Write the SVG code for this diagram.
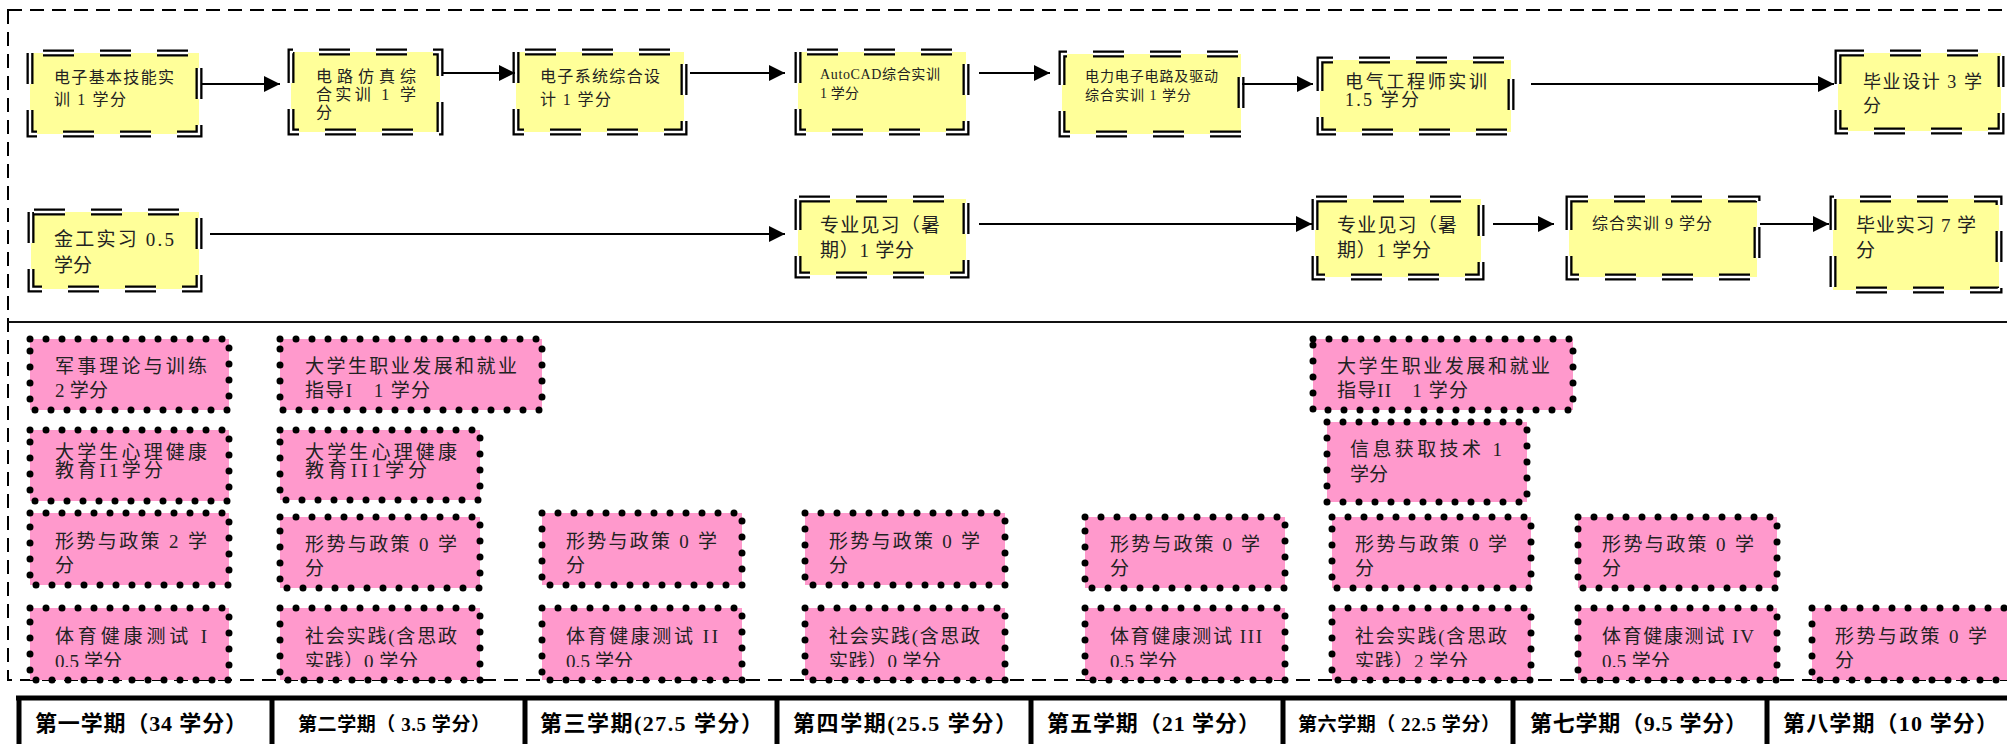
<svg xmlns="http://www.w3.org/2000/svg" width="2007" height="744" viewBox="0 0 2007 744">
<style>
text{font-family:"Liberation Serif","Noto Sans CJK SC",serif;fill:#222}
.y{fill:#FFFF99;stroke:#000;stroke-width:7;stroke-dasharray:31 26}
.yi{fill:none;stroke:#fff;stroke-width:2.4;stroke-dasharray:31 26}
.p{fill:#FF99CC;stroke:#000;stroke-width:7;stroke-dasharray:0 16;stroke-linecap:round}
.t16{font-size:16px}.t14{font-size:14px}.t18{font-size:18px}.t19{font-size:19px}
.pk{font-size:19px}
.hd{font-weight:bold;fill:#000}
.c{fill:none;stroke:#000;stroke-width:2;marker-end:url(#ah)}
</style>
<defs>
<marker id="ah" markerUnits="userSpaceOnUse" markerWidth="16" markerHeight="16" refX="15" refY="7.5" orient="auto" viewBox="0 0 15 15"><path d="M0,0 L15,7.5 L0,15 Z" fill="#000"/></marker>
<clipPath id="cb"><rect x="0" y="0" width="2007" height="667"/></clipPath>
</defs>
<rect width="2007" height="744" fill="#fff"/>
<g id="frame">
<rect x="8" y="10" width="2010" height="670" fill="none" stroke="#000" stroke-width="2" stroke-dasharray="14 8"/>
<line x1="8" y1="322" x2="2007" y2="322" stroke="#111" stroke-width="2"/>
</g>
<g id="n1"><path class="y" d="M30,53 V134 H199 V53 Z"/><path class="yi" d="M30,53 V134 H199 V53 Z"/>
<text class="t16" x="54" y="83" textLength="120">电子基本技能实</text><text class="t16" x="54" y="105" textLength="72">训 1 学分</text></g>
<g id="n2"><path class="y" d="M291,52 V132 H440 V52 Z"/><path class="yi" d="M291,52 V132 H440 V52 Z"/>
<text class="t16" x="316" y="82" textLength="100">电路仿真综</text><text class="t16" x="316" y="100" textLength="100">合实训 1 学</text><text class="t16" x="316" y="118">分</text></g>
<g id="n3"><path class="y" d="M516,52 V132 H684 V52 Z"/><path class="yi" d="M516,52 V132 H684 V52 Z"/>
<text class="t16" x="540" y="82" textLength="120">电子系统综合设</text><text class="t16" x="540" y="105" textLength="71">计 1 学分</text></g>
<g id="n4"><path class="y" d="M798,52 V132 H966 V52 Z"/><path class="yi" d="M798,52 V132 H966 V52 Z"/>
<text class="t14" x="820" y="79" textLength="120">AutoCAD综合实训</text><text class="t14" x="820" y="98" textLength="39">1 学分</text></g>
<g id="n5"><path class="y" d="M1062,54 V134 H1241 V54 Z"/><path class="yi" d="M1062,54 V134 H1241 V54 Z"/>
<text class="t14" x="1085" y="81" textLength="133">电力电子电路及驱动</text><text class="t14" x="1085" y="100" textLength="106">综合实训 1 学分</text></g>
<g id="n6"><path class="y" d="M1320,60 V132 H1511 V60 Z"/><path class="yi" d="M1320,60 V132 H1511 V60 Z"/>
<text class="t18" x="1345" y="88" textLength="142">电气工程师实训</text><text class="t18" x="1345" y="106" textLength="74">1.5 学分</text></g>
<g id="n7"><path class="y" d="M1838,53 V131 H2001 V53 Z"/><path class="yi" d="M1838,53 V131 H2001 V53 Z"/>
<text class="t18" x="1863" y="88" textLength="119">毕业设计 3 学</text><text class="t18" x="1863" y="112">分</text></g>
<g id="n8"><path class="y" d="M31,212 V289 H199 V212 Z"/><path class="yi" d="M31,212 V289 H199 V212 Z"/>
<text class="t19" x="54" y="246" textLength="120">金工实习 0.5</text><text class="t19" x="54" y="272" textLength="38">学分</text></g>
<g id="n9"><path class="y" d="M798,199 V275 H966 V199 Z"/><path class="yi" d="M798,199 V275 H966 V199 Z"/>
<text class="t19" x="820" y="232" textLength="120">专业见习（暑</text><text class="t19" x="820" y="257" textLength="94">期）1 学分</text></g>
<g id="n10"><path class="y" d="M1315,199 V277 H1481 V199 Z"/><path class="yi" d="M1315,199 V277 H1481 V199 Z"/>
<text class="t19" x="1337" y="232" textLength="120">专业见习（暑</text><text class="t19" x="1337" y="257" textLength="94">期）1 学分</text></g>
<g id="n11"><path class="y" d="M1569,199 V277 H1757 V199 Z"/><path class="yi" d="M1569,199 V277 H1757 V199 Z"/>
<text class="t16" x="1592" y="229" textLength="120">综合实训 9 学分</text></g>
<g id="n12"><path class="y" d="M1833,199 V290 H1999 V199 Z"/><path class="yi" d="M1833,199 V290 H1999 V199 Z"/>
<text class="t19" x="1856" y="232" textLength="120">毕业实习 7 学</text><text class="t19" x="1856" y="257">分</text></g>
<g id="connectors">
<path class="c" d="M202,84 H280"/>
<path class="c" d="M443,73 H515"/>
<path class="c" d="M690,73 H785"/>
<path class="c" d="M979,73 H1050"/>
<path class="c" d="M1242,84 H1313"/>
<path class="c" d="M1531,84 H1834"/>
<path class="c" d="M210,234 H785"/>
<path class="c" d="M979,224 H1312"/>
<path class="c" d="M1493,224 H1554"/>
<path class="c" d="M1760,224 H1829"/>
</g>
<g id="p1"><rect class="p" x="30" y="339" width="199" height="71"/><text class="pk" x="55" y="373" textLength="152">军事理论与训练</text><text class="pk" x="55" y="397" textLength="53">2 学分</text></g>
<g id="p2"><rect class="p" x="30" y="430" width="199" height="71"/><text class="pk" x="55" y="459" textLength="152">大学生心理健康</text><text class="pk" x="55" y="477" textLength="108">教育I1学分</text></g>
<g id="p3"><rect class="p" x="30" y="513" width="199" height="72"/><text class="pk" x="55" y="548" textLength="152">形势与政策 2 学</text><text class="pk" x="55" y="572">分</text></g>
<g id="p4"><rect class="p" x="30" y="608" width="199" height="72"/><text class="pk" x="55" y="643" textLength="152">体育健康测试 I</text><text class="pk" x="55" y="668" textLength="67" clip-path="url(#cb)">0.5 学分</text></g>
<g id="p5"><rect class="p" x="280" y="339" width="262" height="71"/><text class="pk" x="305" y="373" textLength="212">大学生职业发展和就业</text><text class="pk" x="305" y="397" textLength="125">指导I　1 学分</text></g>
<g id="p6"><rect class="p" x="280" y="430" width="200" height="70"/><text class="pk" x="305" y="459" textLength="152">大学生心理健康</text><text class="pk" x="305" y="477" textLength="122">教育II1学分</text></g>
<g id="p7"><rect class="p" x="280" y="517" width="200" height="71"/><text class="pk" x="305" y="551" textLength="152">形势与政策 0 学</text><text class="pk" x="305" y="575">分</text></g>
<g id="p8"><rect class="p" x="280" y="608" width="200" height="72"/><text class="pk" x="305" y="643" textLength="152">社会实践(含思政</text><text class="pk" x="305" y="668" textLength="113" clip-path="url(#cb)">实践）0 学分</text></g>
<g id="p9"><rect class="p" x="542" y="513" width="200" height="72"/><text class="pk" x="566" y="548" textLength="151">形势与政策 0 学</text><text class="pk" x="566" y="572">分</text></g>
<g id="p10"><rect class="p" x="542" y="608" width="200" height="72"/><text class="pk" x="566" y="643" textLength="152">体育健康测试 II</text><text class="pk" x="566" y="668" textLength="67" clip-path="url(#cb)">0.5 学分</text></g>
<g id="p11"><rect class="p" x="805" y="513" width="200" height="72"/><text class="pk" x="829" y="548" textLength="151">形势与政策 0 学</text><text class="pk" x="829" y="572">分</text></g>
<g id="p12"><rect class="p" x="805" y="608" width="200" height="72"/><text class="pk" x="829" y="643" textLength="151">社会实践(含思政</text><text class="pk" x="829" y="668" textLength="112" clip-path="url(#cb)">实践）0 学分</text></g>
<g id="p13"><rect class="p" x="1085" y="517" width="200" height="71"/><text class="pk" x="1110" y="551" textLength="150">形势与政策 0 学</text><text class="pk" x="1110" y="575">分</text></g>
<g id="p14"><rect class="p" x="1085" y="608" width="200" height="72"/><text class="pk" x="1110" y="643" textLength="152">体育健康测试 III</text><text class="pk" x="1110" y="668" textLength="67" clip-path="url(#cb)">0.5 学分</text></g>
<g id="p15"><rect class="p" x="1313" y="339" width="260" height="71"/><text class="pk" x="1337" y="373" textLength="213">大学生职业发展和就业</text><text class="pk" x="1337" y="397" textLength="131">指导II　1 学分</text></g>
<g id="p16"><rect class="p" x="1327" y="422" width="200" height="80"/><text class="pk" x="1350" y="456" textLength="152">信息获取技术 1</text><text class="pk" x="1350" y="481" textLength="38">学分</text></g>
<g id="p17"><rect class="p" x="1332" y="517" width="199" height="71"/><text class="pk" x="1355" y="551" textLength="152">形势与政策 0 学</text><text class="pk" x="1355" y="575">分</text></g>
<g id="p18"><rect class="p" x="1332" y="608" width="199" height="72"/><text class="pk" x="1355" y="643" textLength="152">社会实践(含思政</text><text class="pk" x="1355" y="668" textLength="113" clip-path="url(#cb)">实践）2 学分</text></g>
<g id="p19"><rect class="p" x="1578" y="517" width="199" height="71"/><text class="pk" x="1602" y="551" textLength="152">形势与政策 0 学</text><text class="pk" x="1602" y="575">分</text></g>
<g id="p20"><rect class="p" x="1578" y="608" width="199" height="72"/><text class="pk" x="1602" y="643" textLength="152">体育健康测试 IV</text><text class="pk" x="1602" y="668" textLength="68" clip-path="url(#cb)">0.5 学分</text></g>
<g id="p21"><rect class="p" x="1812" y="608" width="200" height="72"/><text class="pk" x="1835" y="643" textLength="152">形势与政策 0 学</text><text class="pk" x="1835" y="667">分</text></g>
<g id="table">
<path d="M16,698 H2007 M19,698 V744 M272,698 V744 M525,698 V744 M777,698 V744 M1031,698 V744 M1283,698 V744 M1513,698 V744 M1767,698 V744" fill="none" stroke="#000" stroke-width="5"/>
<text class="hd" x="35" y="731" font-size="22" textLength="212">第一学期（34 学分）</text>
<text class="hd" x="298" y="731" font-size="19" textLength="192">第二学期（ 3.5 学分）</text>
<text class="hd" x="540" y="731" font-size="22" textLength="223">第三学期(27.5  学分）</text>
<text class="hd" x="793" y="731" font-size="22" textLength="224">第四学期(25.5  学分）</text>
<text class="hd" x="1047" y="731" font-size="22" textLength="213">第五学期（21 学分）</text>
<text class="hd" x="1298" y="731" font-size="19" textLength="202">第六学期（ 22.5 学分）</text>
<text class="hd" x="1530" y="731" font-size="22" textLength="217">第七学期（9.5 学分）</text>
<text class="hd" x="1783" y="731" font-size="22" textLength="215">第八学期（10  学分）</text>
</g>
</svg>
